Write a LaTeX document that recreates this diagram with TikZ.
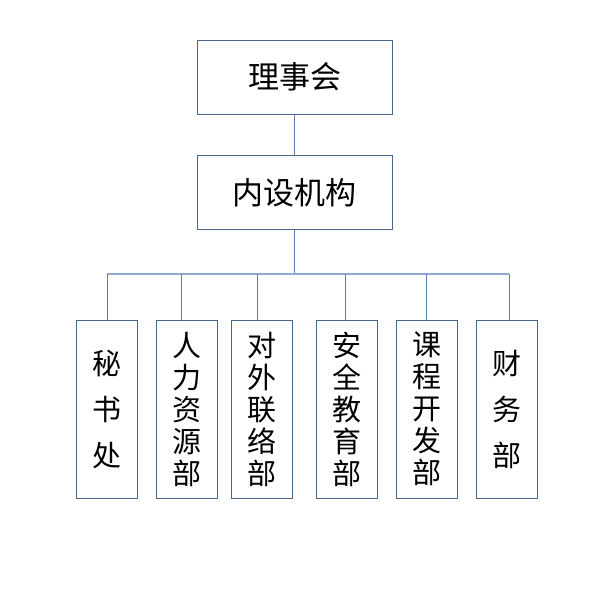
\documentclass[tikz,border=0pt]{standalone}
\usepackage{fontspec}
\setmainfont{Noto Sans CJK SC}
\usetikzlibrary{positioning}
\definecolor{BoxEdge}{HTML}{48688A}
\definecolor{LinkBlue}{HTML}{5B82AE}
\definecolor{BusBlue}{HTML}{8FAAD3}
\tikzset{
  unit/.style={draw=BoxEdge,line width=1pt,inner sep=0pt,align=center},
  headbox/.style={unit,minimum width=195pt,minimum height=74pt,font=\fontsize{31}{33}\selectfont},
  deptbox/.style={unit,minimum width=61pt,minimum height=178pt,font=\fontsize{29}{32}\selectfont},
  shortdept/.style={deptbox,font=\fontsize{29}{46}\selectfont},
  link/.style={draw=LinkBlue,line width=1pt},
  bus/.style={draw=BusBlue,line width=2pt}
}
\begin{document}
\begin{tikzpicture}[x=1pt,y=-1pt]
        \useasboundingbox (0,0) rectangle (601,608);
        \node[headbox] (council) at (294.5,77) {理事会};
        \node[headbox] (office) at (294.5,192.5) {内设机构};
        \node[shortdept] (secretariat) at (107,409) {秘\\书\\处};
        \node[deptbox] (hr) at (186.5,409) {人\\力\\资\\源\\部};
        \node[deptbox] (liaison) at (261.5,409) {对\\外\\联\\络\\部};
        \node[deptbox] (safety) at (346.5,409) {安\\全\\教\\育\\部};
        \node[deptbox] (course) at (426.5,409) {课\\程\\开\\发\\部};
        \node[shortdept] (finance) at (506.5,409) {财\\务\\部};
        \coordinate (busL) at (107,274);
        \coordinate (busR) at (509,274);
        \draw[link] (council) -- (office);
        \draw[link] (office.south) -- (office.south |- busL);
        \draw[bus] (busL) -- (busR);
        \draw[link] (secretariat.north) -- (secretariat.north |- busL);
        \draw[link] ([xshift=-5.5pt]hr.north) -- ([xshift=-5.5pt]hr.north |- busL);
        \draw[link] ([xshift=-4.5pt]liaison.north) -- ([xshift=-4.5pt]liaison.north |- busL);
        \draw[link] ([xshift=-1.5pt]safety.north) -- ([xshift=-1.5pt]safety.north |- busL);
        \draw[link] (course.north) -- (course.north |- busL);
        \draw[link] (busR) -- (busR |- finance.north);
      \end{tikzpicture}
\end{document}
